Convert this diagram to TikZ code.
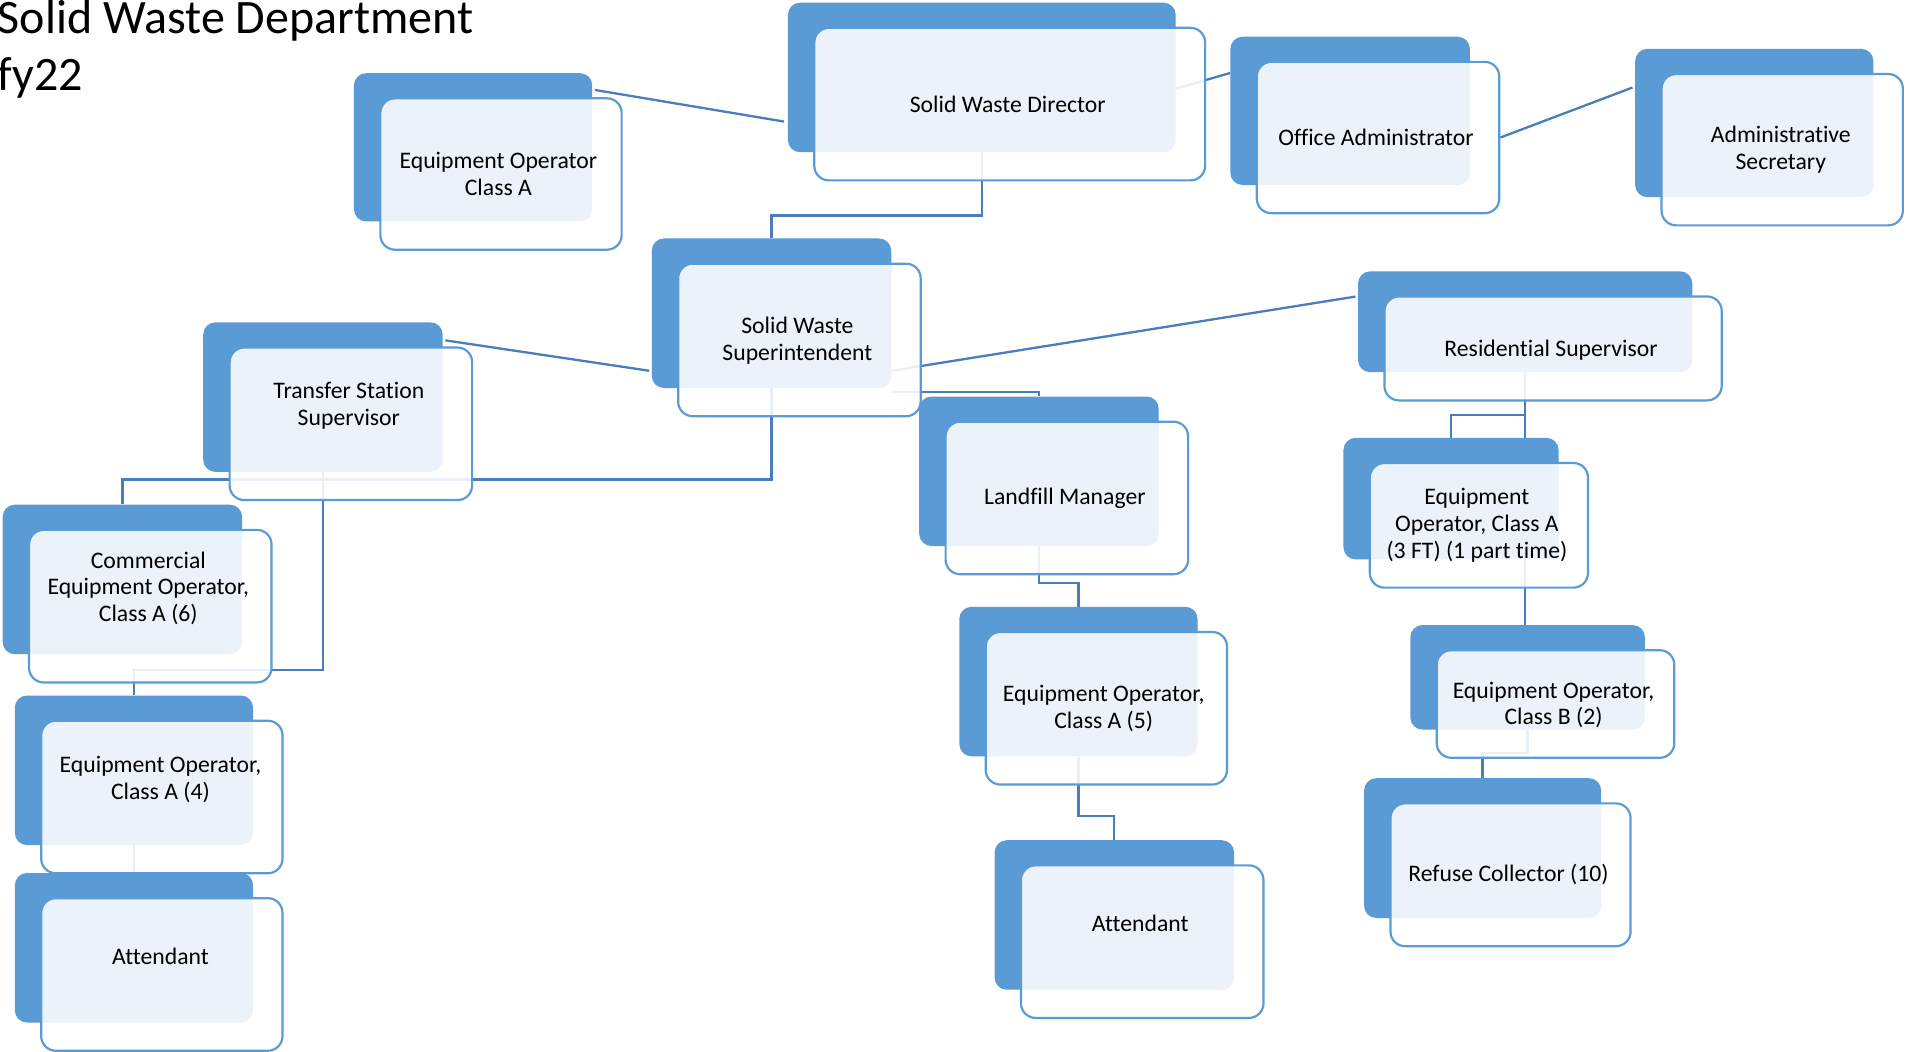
\documentclass[tikz,border=0pt]{standalone}
\usepackage{fontspec}
\setmainfont{Carlito}[Ligatures=NoCommon]
\usetikzlibrary{calc}
\pgfdeclarelayer{bg}
\pgfsetlayers{bg,main}
\definecolor{boxblue}{HTML}{5B9BD5}
\definecolor{lineblue}{HTML}{4A7EBB}
\newcommand{\orgunit}[5]{%
  \node[backbox, minimum width=#4, minimum height=#5, anchor=north west] (#1B) at (#2,#3) {};
  \node[frontbox, minimum width=#4+2.5, minimum height=#5+2.5, anchor=north west] (#1F) at (#2+21,#3+20) {};
}
\begin{document}
\begin{tikzpicture}[x=1pt,y=-1pt,
  backbox/.style={rectangle, rounded corners=10pt, fill=boxblue, draw=none, inner sep=0pt},
  frontbox/.style={rectangle, rounded corners=12pt, fill=white, fill opacity=0.88, draw=boxblue, line width=1.8pt, inner sep=0pt},
  lbl/.style={align=center, font=\fontsize{19.5}{22}\selectfont, text=black, inner sep=0pt, yshift=-2pt},
  conn/.style={draw=lineblue, line width=1.9pt},
  ttl/.style={anchor=base west, font=\fontsize{39.5}{47}\selectfont, inner sep=0pt}]
\useasboundingbox (0,0) rectangle (1568,865);

% boxes
\orgunit{dir}{648}{2}{319}{123}
\orgunit{eoa}{291}{60}{196}{122}
\orgunit{off}{1012}{30}{197}{122}
\orgunit{adm}{1345}{40}{196}{122}
\orgunit{sup}{536}{196}{197}{123}
\orgunit{res}{1117}{223}{275}{83}
\orgunit{ts}{167}{265}{197}{123}
\orgunit{com}{2}{415}{197}{123}
\orgunit{eof}{12}{572}{196}{123}
\orgunit{atl}{12}{718}{196}{123}
\orgunit{lm}{756}{326}{197}{123}
\orgunit{eoc}{789}{499}{196}{123}
\orgunit{atm}{818}{691}{197}{123}
\orgunit{eot}{1105}{360}{177}{100}
\orgunit{eob}{1160}{514}{193}{86}
\orgunit{ref}{1122}{640}{195}{115}

% labels
\node[lbl] (dirT) at (829,84) {Solid Waste Director};
\node[lbl] (eoaT) at (410,141) {Equipment Operator\\Class A};
\node[lbl] (offT) at (1132,111) {Office Administrator};
\node[lbl] (admT) at (1465,121) {Administrative\\Secretary};
\node[lbl] (supT) at (656,278) {Solid Waste\\Superintendent};
\node[lbl] (resT) at (1276,286) {Residential Supervisor};
\node[lbl] (tsT) at (287,332) {Transfer Station\\Supervisor};
\node[lbl] (comT) at (122,482) {Commercial\\Equipment Operator,\\Class A (6)};
\node[lbl] (eofT) at (132,639) {Equipment Operator,\\Class A (4)};
\node[lbl] (atlT) at (132,785) {Attendant};
\node[lbl] (lmT) at (876,408) {Landfill Manager};
\node[lbl] (eocT) at (908,581) {Equipment Operator,\\Class A (5)};
\node[lbl] (atmT) at (938,758) {Attendant};
\node[lbl] (eotT) at (1215,430) {Equipment\\Operator, Class A\\(3 FT) (1 part time)};
\node[lbl] (eobT) at (1278,578) {Equipment Operator,\\Class B (2)};
\node[lbl] (refT) at (1241,717) {Refuse Collector (10)};

% title
\node[ttl] (title1) at (-2,27.5) {Solid Waste Department};
\node[ttl] (title2) at (-2,74.5) {fy22};

% connectors
\begin{pgfonlayer}{bg}
\draw[conn] ([xshift=2pt,yshift=-14pt]eoaB.north east) -- ([xshift=-3pt,yshift=-98pt]dirB.north west);
\draw[conn] ([yshift=-71pt]dirB.north east) -- ([yshift=-30pt]offB.north west);
\draw[conn] (offF.east) -- ([xshift=-2pt,yshift=-32pt]admB.north west);
\draw[conn] (dirB.south) -- ++(0,52) -| (supB.north);
\draw[conn] ([xshift=2pt,yshift=-15pt]tsB.north east) -- ([xshift=-2pt,yshift=-109pt]supB.north west);
\draw[conn] ([yshift=-109pt]supB.north east) -- ([xshift=-2pt,yshift=-21pt]resB.north west);
\draw[conn] ([yshift=-3pt]supB.south east) -| (lmB.north);
\draw[conn] (supB.south) -- ++(0,75) -| (comB.north);
\draw[conn] (tsB.south) -- ++(0,163) -| (eofB.north);
\draw[conn] (eofB.south) -- (atlB.north);
\draw[conn] (lmB.south) -- ++(0,30) -| (eocB.north);
\draw[conn] (eocB.south) -- ++(0,49) -| (atmB.north);
\draw[conn] (resB.south) -- ++(0,35) -| (eotB.north);
\draw[conn] (resB.south) -- (resB.south |- eobB.north);
\draw[conn] (eobB.south) -- ++(0,19) -| (refB.north);
\end{pgfonlayer}
\end{tikzpicture}
\end{document}
